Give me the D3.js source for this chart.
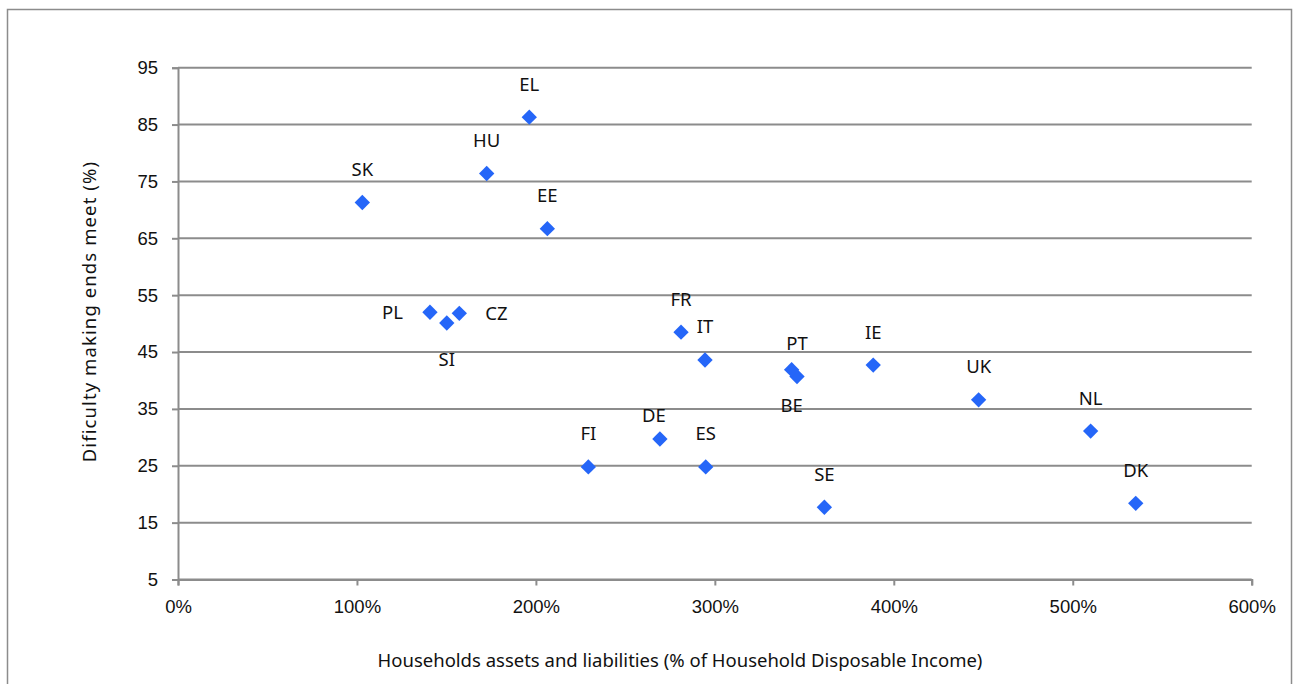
<!DOCTYPE html>
<html>
<head>
<meta charset="utf-8">
<script src="https://cdn.jsdelivr.net/npm/d3@7"></script>
<style>
  html, body { margin: 0; padding: 0; background: #fff; }
  svg { display: block; font-family: "Noto Sans", "Open Sans", sans-serif; }
</style>
</head>
<body>
<svg id="chart" width="1295" height="684"></svg>
<script>
// Country codes, household assets & liabilities (% of disposable income)
// and share of households with difficulty making ends meet (%)
const countries = ["SK", "EL", "HU", "EE", "PL", "SI", "CZ", "FR", "IT", "PT", "BE", "IE", "UK", "NL", "DK", "SE", "FI", "DE", "ES"];
const assetsPct = [103.0, 196.3, 172.5, 206.4, 140.8, 150.2, 157.2, 281.1, 294.5, 345.9, 342.9, 388.5, 447.4, 510.0, 535.2, 361.2, 229.3, 269.3, 294.9];
const difficulty = [71.3, 86.3, 76.4, 66.7, 52.0, 50.1, 51.8, 48.5, 43.6, 40.7, 41.9, 42.7, 36.6, 31.1, 18.4, 17.7, 24.8, 29.7, 24.8];
const labelSide = ["above", "above", "above", "above", "left", "below", "right", "above", "above", "above", "below", "above", "above", "above", "above", "above", "above", "above", "above"];

const xTicks = [0, 100, 200, 300, 400, 500, 600];
const yTicks = [5, 15, 25, 35, 45, 55, 65, 75, 85, 95];

const xTitle = "Households assets and liabilities (% of Household Disposable Income)";
const yTitle = "Dificulty making ends meet (%)";

const svg = d3.select("#chart");
const grid = "#8c8c8c";
const markColor = "#2566f8";
const fontSize = 18.5;

// outer frame
svg.append("rect")
  .attr("x", 7.5).attr("y", 9.5)
  .attr("width", 1284).attr("height", 690)
  .attr("fill", "none").attr("stroke", grid).attr("stroke-width", 1.5);

const plot = { left: 178, right: 1251.7, top: 67.7, bottom: 579.5 };

const x = d3.scaleLinear().domain([0, 600]).range([plot.left, plot.right]);
const y = d3.scaleLinear().domain([5, 95]).range([plot.bottom, plot.top]);

// horizontal gridlines
svg.append("g").selectAll("line").data(yTicks).join("line")
  .attr("x1", plot.left).attr("x2", plot.right)
  .attr("y1", d => y(d)).attr("y2", d => y(d))
  .attr("stroke", grid).attr("stroke-width", 2);

// y axis
const yAxis = svg.append("g")
  .attr("transform", `translate(${plot.left},0)`)
  .call(d3.axisLeft(y).tickValues(yTicks).tickSize(6).tickPadding(14).tickFormat(d3.format("d")));
yAxis.select(".domain").attr("stroke", grid).attr("stroke-width", 2);
yAxis.selectAll(".tick line").attr("stroke", grid).attr("stroke-width", 2);
yAxis.selectAll(".tick text")
  .attr("font-size", fontSize).attr("font-family", null).attr("fill", "#111");

// x axis
const xAxis = svg.append("g")
  .attr("transform", `translate(0,${plot.bottom})`)
  .call(d3.axisBottom(x).tickValues(xTicks).tickSize(6).tickPadding(14).tickFormat(d => d + "%"));
xAxis.select(".domain").attr("stroke", grid).attr("stroke-width", 2);
xAxis.selectAll(".tick line").attr("stroke", grid).attr("stroke-width", 2);
xAxis.selectAll(".tick text")
  .attr("font-size", fontSize).attr("font-family", null).attr("fill", "#111");

// axis titles
svg.append("text")
  .attr("x", 680).attr("y", 667)
  .attr("text-anchor", "middle")
  .attr("font-size", fontSize).attr("fill", "#111")
  .text(xTitle);

svg.append("text")
  .attr("transform", `translate(96,${(plot.top + plot.bottom) / 2 - 12}) rotate(-90)`)
  .attr("text-anchor", "middle")
  .attr("font-size", fontSize).attr("letter-spacing", 1.1).attr("fill", "#111")
  .text(yTitle);

// points
const rows = countries.map((c, i) => ({ c, x: assetsPct[i], y: difficulty[i], side: labelSide[i] }));
const diamond = d3.symbol().type(d3.symbolDiamond2).size(150);

svg.append("g").selectAll("path").data(rows).join("path")
  .attr("transform", d => `translate(${x(d.x)},${y(d.y)})`)
  .attr("d", diamond)
  .attr("fill", markColor);

// country labels
const offsets = {
  above: { dx: 0, dy: -33, anchor: "middle" },
  below: { dx: 0, dy: 36, anchor: "middle" },
  left: { dx: -27, dy: 0, anchor: "end" },
  right: { dx: 26, dy: 0, anchor: "start" }
};
// DE label sits lower, nudged toward the FI label
const nudge = { DE: { dx: -6, dy: 9 } };

svg.append("g").selectAll("text").data(rows).join("text")
  .attr("x", d => x(d.x) + offsets[d.side].dx + (nudge[d.c] ? nudge[d.c].dx : 0))
  .attr("y", d => y(d.y) + offsets[d.side].dy + (nudge[d.c] ? nudge[d.c].dy : 0))
  .attr("dy", "0.35em")
  .attr("text-anchor", d => offsets[d.side].anchor)
  .attr("font-size", fontSize).attr("fill", "#111")
  .text(d => d.c);
</script>
</body>
</html>
